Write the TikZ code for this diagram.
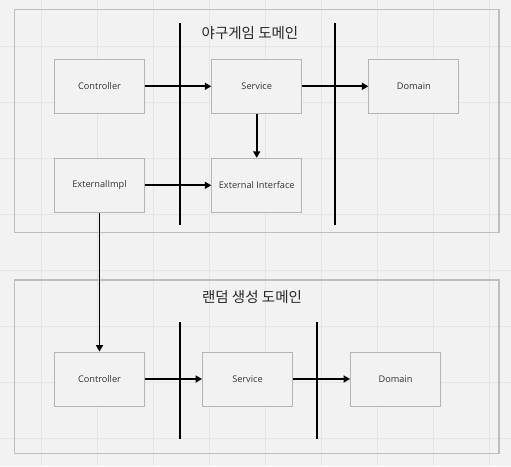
\documentclass[tikz,border=0pt]{standalone}
\usepackage{fontspec}
\setmainfont{Open Sans}
\newfontfamily\krfont{Noto Sans CJK KR}
\usetikzlibrary{arrows.meta}
\definecolor{paper}{HTML}{F2F2F2}
\definecolor{gridline}{HTML}{E6E6E6}
\definecolor{boxline}{HTML}{B4B4B4}
\definecolor{domline}{HTML}{BEBEBE}
\definecolor{labeltext}{HTML}{333333}
\tikzset{
  comp/.style={draw=boxline, fill=paper, line width=0.9pt, minimum width=90pt, minimum height=54pt,
    text=labeltext, font=\fontsize{9.2}{10}\selectfont},
  dep/.style={line width=1.9pt, -{Triangle[length=6.5pt,width=7pt]}},
  layer/.style={line width=2.3pt},
  domainbox/.style={draw=domline, line width=1.3pt},
  title/.style={text=black!85, font=\krfont\fontsize{14.5}{16}\selectfont}
}

\begin{document}
\begin{tikzpicture}[x=1pt,y=-1pt]
\path [fill=paper] (0,0) rectangle (511,466);
\useasboundingbox (0,0) rectangle (511,466);
% grid
\foreach \k in {0,...,8} {
  \draw [gridline, line width=0.8pt] (41.7+55.9*\k,0)--(41.7+55.9*\k,466);
  \draw [gridline, line width=0.8pt] (0,46+56*\k)--(511,46+56*\k);
}

% baseball domain
\draw [domainbox] (14.3,9.5) rectangle (499,232.7);
\node [title] (gametitle) at (250,33) {야구게임 도메인};
\draw [layer] (180,22.7)--(180,225.3) (335,22.7)--(335,225.3);
\node [comp] (ctrl) at (99.5,86.3) {Controller};
\node [comp] (svc) at (256.7,86.3) {Service};
\node [comp] (dom) at (413.8,86.3) {Domain};
\node [comp] (extimpl) at (99.5,185.3) {ExternalImpl};
\node [comp] (extif) at (256.7,185.3) {External Interface};
\draw [dep] (ctrl)--(svc);
\draw [dep] (svc)--(dom);
\draw [dep] (svc)--(extif);
\draw [dep] (extimpl)--(extif);

% random domain
\draw [domainbox] (14.3,280) rectangle (499,453.7);
\node [title] (randtitle) at (252,297.3) {랜덤 생성 도메인};
\draw [layer] (180,322.3)--(180,439.3) (317.3,322.3)--(317.3,439.3);
\node [comp] (rctrl) at (99.5,379) {Controller};
\node [comp] (rsvc) at (247.5,379) {Service};
\node [comp] (rdom) at (395.5,379) {Domain};
\draw [dep] (rctrl)--(rsvc);
\draw [dep] (rsvc)--(rdom);

\draw [dep] (extimpl)--(rctrl);
\end{tikzpicture}
\end{document}
